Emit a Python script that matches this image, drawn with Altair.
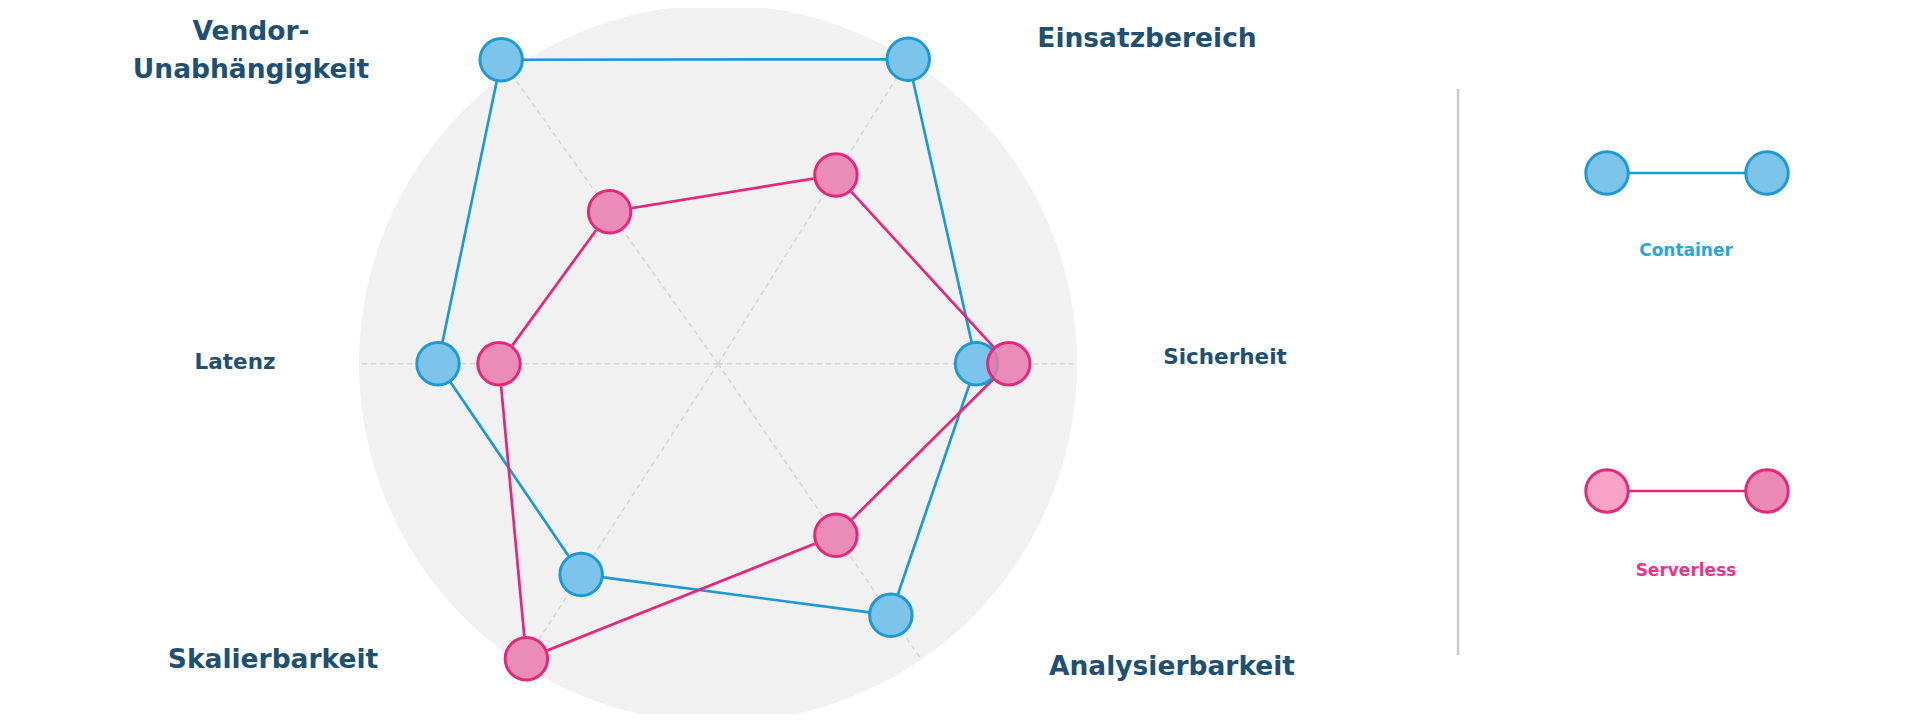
import math
import altair as alt
import pandas as pd

# ---------------- data ----------------
categories = ["Sicherheit", "Einsatzbereich", "Vendor-Unabhängigkeit",
              "Latenz", "Skalierbarkeit", "Analysierbarkeit"]
container = [7.2, 10.0, 10.4, 7.8, 7.0, 8.5]
serverless = [8.1, 6.2, 5.2, 6.1, 9.8, 5.8]
series_names = ["Container", "Serverless"]
scale_max = 10

# ---------------- layout ----------------
spoke_angles = [0, 58, 125.5, 180, 237, 304.5]   # direction of each spoke (deg)
W, H = 1904, 706
PX = 35.9                 # pixels per value unit
CX, CY = 710.0, 355.7     # centre of the radar inside the plot area (px)

def ux(page_x):
    return (page_x - 8 - CX) / PX

def uy(page_y):
    return (CY - (page_y - 8)) / PX

xdom = [-CX / PX, (W - CX) / PX]
ydom = [-(H - CY) / PX, CY / PX]
X = lambda f: alt.X(f, type="quantitative", scale=alt.Scale(domain=xdom, nice=False, zero=False), axis=None)
Y = lambda f: alt.Y(f, type="quantitative", scale=alt.Scale(domain=ydom, nice=False, zero=False), axis=None)

BG = "#f1f1f1"
BLUE_STROKE = "#1b9ad6"
BLUE_FILL = "#7cc4ea"
PINK_STROKE = "#e5267b"
PINK_FILL = "#e97aad"
TEXT = "#1e5073"

# ---------------- tables ----------------
def polygon(values, name):
    rows = []
    for i, (cat, v) in enumerate(zip(categories, values)):
        a = math.radians(spoke_angles[i])
        rows.append({"series": name, "category": cat, "value": v, "order": i,
                     "x": v * math.cos(a), "y": v * math.sin(a)})
    closing = dict(rows[0])
    closing["order"] = len(values)
    return pd.DataFrame(rows), pd.DataFrame(rows + [closing])

pts_c, line_c = polygon(container, series_names[0])
pts_s, line_s = polygon(serverless, series_names[1])

spokes = pd.DataFrame({
    "category": categories,
    "x": [0.0] * 6, "y": [0.0] * 6,
    "x2": [scale_max * math.cos(math.radians(a)) for a in spoke_angles],
    "y2": [scale_max * math.sin(math.radians(a)) for a in spoke_angles],
})

one = pd.DataFrame({"x": [0.0], "y": [0.0]})

# ---------------- layers ----------------
bg = alt.Chart(one).mark_circle(size=(2 * scale_max * PX) ** 2, color=BG, opacity=1).encode(
    x=X("x"), y=Y("y"))

spoke_layer = alt.Chart(spokes).mark_rule(color="#d6d6d6", strokeWidth=1.5, strokeDash=[5, 4]).encode(
    x=X("x"), y=Y("y"), x2="x2", y2="y2")

line_blue = alt.Chart(line_c).mark_line(color=BLUE_STROKE, strokeWidth=2.7).encode(
    x=X("x"), y=Y("y"), order="order:Q")
line_pink = alt.Chart(line_s).mark_line(color=PINK_STROKE, strokeWidth=2.7).encode(
    x=X("x"), y=Y("y"), order="order:Q")

# opaque discs under the translucent pink points so the lines do not show through
pink_base = alt.Chart(pts_s).mark_circle(size=1800, color=BG, opacity=1, stroke=BG, strokeWidth=3).encode(
    x=X("x"), y=Y("y"))

pt_blue = alt.Chart(pts_c).mark_circle(size=1800, fill=BLUE_FILL, fillOpacity=1, opacity=1,
                                       stroke=BLUE_STROKE, strokeWidth=3).encode(
    x=X("x"), y=Y("y"), tooltip=["category", "value"])
pt_pink = alt.Chart(pts_s).mark_circle(size=1800, fill=PINK_FILL, fillOpacity=0.85, opacity=1,
                                       stroke=PINK_STROKE, strokeWidth=3).encode(
    x=X("x"), y=Y("y"), tooltip=["category", "value"])

# axis labels (page positions of text centres)
label_text = ["Sicherheit", "Einsatzbereich", "Vendor-", "Unabhängigkeit",
              "Latenz", "Skalierbarkeit", "Analysierbarkeit"]
label_px = [1225, 1147, 251, 251, 235, 273, 1172]
label_py = [358, 39, 32, 70, 363, 660, 667]
label_big = [False, True, True, True, False, True, True]
labels = pd.DataFrame({
    "text": label_text,
    "x": [ux(p) for p in label_px],
    "y": [uy(p) for p in label_py],
    "big": label_big,
})
lab_big = alt.Chart(labels[labels["big"]]).mark_text(
    font="DejaVu Sans", fontWeight="bold", fontSize=26.5, color=TEXT,
    align="center", baseline="middle").encode(x=X("x"), y=Y("y"), text="text:N")
lab_small = alt.Chart(labels[~labels["big"]]).mark_text(
    font="DejaVu Sans", fontWeight="bold", fontSize=21.5, color=TEXT,
    align="center", baseline="middle").encode(x=X("x"), y=Y("y"), text="text:N")

# legend
sep = alt.Chart(one).mark_rule(color="#cccccc", strokeWidth=2.5).encode(
    x=alt.value(1458 - 8), y=alt.value(89 - 8), y2=alt.value(655 - 8))

def legend_item(name, py, stroke, fill_left, fill_right, text_color, text_py):
    seg = pd.DataFrame({"x": [ux(1607)], "x2": [ux(1767)], "y": [uy(py)]})
    line = alt.Chart(seg).mark_rule(color=stroke, strokeWidth=2.7).encode(
        x=X("x"), x2="x2", y=Y("y"))
    left = alt.Chart(pd.DataFrame({"x": [ux(1607)], "y": [uy(py)]})).mark_circle(
        size=1800, fill=fill_left, opacity=1, stroke=stroke, strokeWidth=3).encode(x=X("x"), y=Y("y"))
    right = alt.Chart(pd.DataFrame({"x": [ux(1767)], "y": [uy(py)]})).mark_circle(
        size=1800, fill=fill_right, opacity=1, stroke=stroke, strokeWidth=3).encode(x=X("x"), y=Y("y"))
    txt = alt.Chart(pd.DataFrame({"x": [ux(1686)], "y": [uy(text_py)], "t": [name]})).mark_text(
        font="DejaVu Sans", fontWeight="bold", fontSize=17, color=text_color,
        align="center", baseline="middle").encode(x=X("x"), y=Y("y"), text="t:N")
    return [line, left, right, txt]

leg = legend_item(series_names[0], 173, BLUE_STROKE, BLUE_FILL, BLUE_FILL, "#2aa4dd", 251) + \
      legend_item(series_names[1], 491, PINK_STROKE, "#f8a2c7", "#ec8ab6", "#e8358b", 571)

chart = alt.layer(bg, spoke_layer, line_blue, line_pink, pink_base, pt_blue, pt_pink,
                  lab_big, lab_small, sep, *leg).properties(
    width=W, height=H, padding=0, background="white",
    autosize=alt.AutoSizeParams(type="none"),
).configure_view(stroke=None)

chart.save("out.html", embed_options={"renderer": "svg", "actions": False})
